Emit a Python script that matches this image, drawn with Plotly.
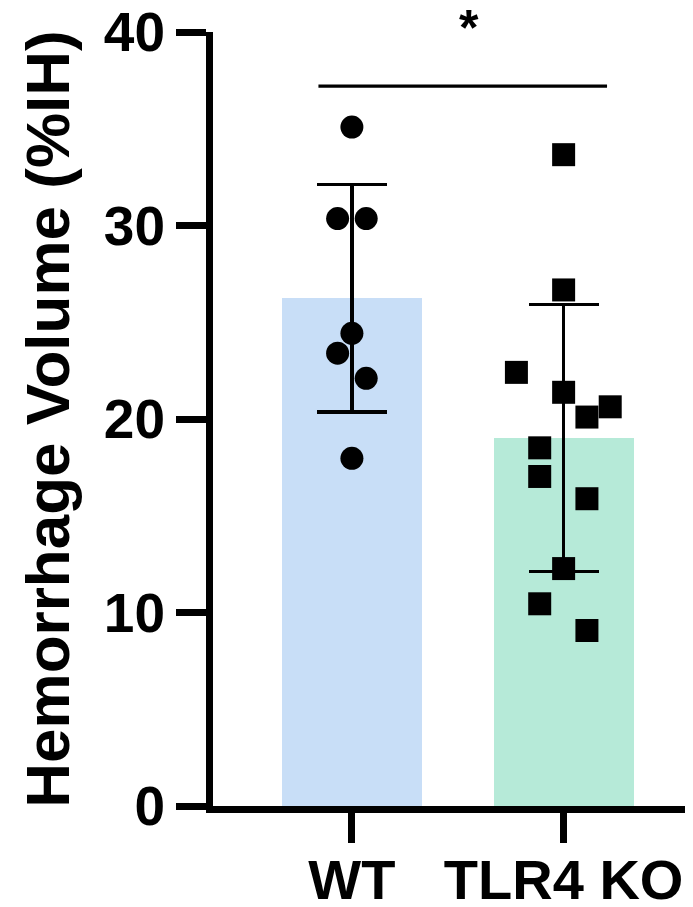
import plotly.graph_objects as go

# ---- data ----
groups = ["WT", "TLR4 KO"]
group_pos = [0, 1]
means = [26.24, 19.02]
sds = [5.88, 6.89]
bar_colors = ["#C8DEF7", "#B6EAD8"]

wt_values = [35.09, 30.36, 30.36, 24.43, 23.40, 22.10, 17.97]
wt_jitter = [0.0, -0.0675, 0.0675, 0.0, -0.0675, 0.0675, 0.0]

ko_values = [33.66, 26.67, 22.41, 21.38, 20.63, 20.10, 18.51, 17.03, 15.88, 12.27, 10.45, 9.07]
ko_jitter = [0.0, 0.0, -0.223, 0.0, 0.220, 0.110, -0.113, -0.113, 0.110, 0.0, -0.113, 0.110]

sig_y = 37.2
sig_x = [-0.158, 1.205]
sig_label = "*"
sig_label_x = 0.554

y_ticks = [0, 10, 20, 30, 40]
y_title = "Hemorrhage Volume (%IH)"

FONT = "Liberation Sans, Arial, Helvetica, sans-serif"

fig = go.Figure()

fig.add_trace(go.Bar(
    x=group_pos, y=means, width=0.66,
    marker=dict(color=bar_colors, line=dict(width=0)),
    error_y=dict(type="data", array=sds, symmetric=True,
                 color="black", thickness=3.5, width=35),
    showlegend=False, hoverinfo="skip",
))

fig.add_trace(go.Scatter(
    x=[group_pos[0] + j for j in wt_jitter], y=wt_values,
    mode="markers",
    marker=dict(symbol="circle", size=23, color="black", line=dict(width=0)),
    showlegend=False, cliponaxis=False,
))

fig.add_trace(go.Scatter(
    x=[group_pos[1] + j for j in ko_jitter], y=ko_values,
    mode="markers",
    marker=dict(symbol="square", size=23, color="black", line=dict(width=0)),
    showlegend=False, cliponaxis=False,
))

fig.add_shape(type="line", xref="x", yref="y",
              x0=sig_x[0], x1=sig_x[1], y0=sig_y, y1=sig_y,
              line=dict(color="black", width=3.3))

fig.add_annotation(x=sig_label_x, y=1.0, xref="x", yref="paper",
                   yanchor="top", yshift=34,
                   text="<b>%s</b>" % sig_label, showarrow=False,
                   font=dict(family=FONT, size=50, color="black"))

# page body adds an 8px offset, so the figure is sized to fit the window
fig.update_layout(
    width=685, height=899,
    margin=dict(l=205, r=0, t=24, b=101, pad=0),
    plot_bgcolor="white", paper_bgcolor="white",
    font=dict(family=FONT, color="black"),
    bargap=0,
)

fig.update_xaxes(
    range=[-0.656, 1.611], automargin=False,
    tickmode="array", tickvals=group_pos, ticktext=["<b>%s</b>" % g for g in groups],
    ticks="outside", ticklen=30, tickwidth=7, tickcolor="black",
    showline=True, linewidth=7, linecolor="black",
    showgrid=False, zeroline=False,
    ticklabelstandoff=-11, ticklabeloverflow="allow",
    tickfont=dict(family=FONT, size=56, color="black"),
)

fig.update_yaxes(
    range=[0, 40], automargin=False,
    tickmode="array", tickvals=y_ticks, ticktext=["<b>%d</b>" % t for t in y_ticks],
    ticks="outside", ticklen=30, tickwidth=7, tickcolor="black",
    showline=True, linewidth=7, linecolor="black",
    showgrid=False, zeroline=False,
    ticklabeloverflow="allow",
    tickfont=dict(family=FONT, size=55, color="black"),
    title=dict(text="<b>%s</b>" % y_title, standoff=17,
               font=dict(family=FONT, size=62, color="black")),
)

fig.write_html("out.html")
